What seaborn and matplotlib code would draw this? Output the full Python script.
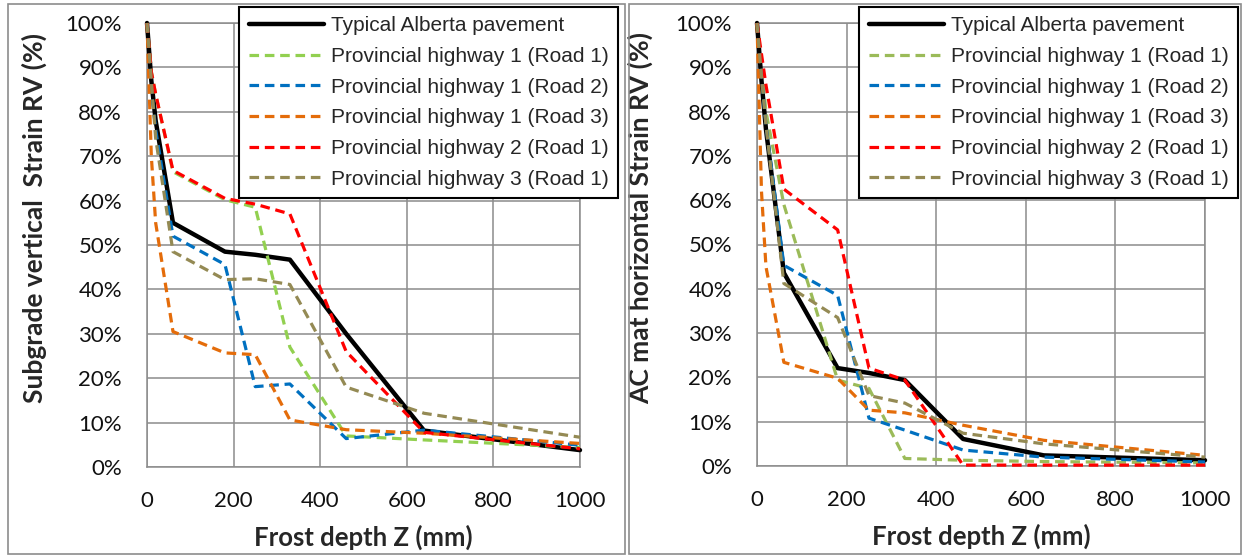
import matplotlib
matplotlib.use("Agg")
import matplotlib.pyplot as plt
import seaborn as sns
import pandas as pd
from matplotlib.ticker import PercentFormatter
from matplotlib.patches import Rectangle

# ---------------- data ----------------
depth_mm = [0, 10, 20, 60, 180, 250, 330, 460, 640, 1000]

series_names = [
    "Typical Alberta pavement",
    "Provincial highway 1 (Road 1)",
    "Provincial highway 1 (Road 2)",
    "Provincial highway 1 (Road 3)",
    "Provincial highway 2 (Road 1)",
    "Provincial highway 3 (Road 1)",
]

# Left panel: subgrade vertical strain RV (%)
sub_typical = [100, 87, 78, 55.0, 48.5, 47.8, 46.7, 30.0, 8.2, 3.8]
sub_ph1_r1 = [100, 89, 84, 66.5, 60.2, 58.5, 27.0, 7.0, 6.1, 4.4]
sub_ph1_r2 = [100, 85, 76, 52.0, 45.6, 18.1, 18.7, 6.4, 8.3, 4.9]
sub_ph1_r3 = [100, 70, 55, 30.5, 25.7, 25.3, 10.6, 8.4, 7.6, 5.3]
sub_ph2_r1 = [100, 89, 84, 66.8, 60.5, 59.2, 57.0, 26.0, 7.8, 4.1]
sub_ph3_r1 = [100, 87, 74, 48.5, 42.2, 42.4, 41.1, 18.0, 12.1, 6.7]

# Right panel: AC mat horizontal strain RV (%)
ac_typical = [100, 87, 76, 43.6, 22.1, 21.0, 19.4, 6.1, 2.4, 1.3]
ac_ph1_r1 = [100, 90, 80, 59.0, 19.4, 17.5, 1.7, 1.3, 1.0, 0.7]
ac_ph1_r2 = [100, 88, 77, 45.3, 38.5, 10.8, 8.1, 3.6, 2.0, 0.9]
ac_ph1_r3 = [100, 62, 45, 23.4, 19.8, 12.6, 12.0, 9.2, 5.8, 2.4]
ac_ph2_r1 = [100, 93, 86, 62.5, 53.3, 22.1, 19.4, 0.2, 0.2, 0.2]
ac_ph3_r1 = [100, 88, 77, 41.2, 33.5, 15.9, 14.2, 7.4, 5.0, 2.0]

x_ticks = [0, 200, 400, 600, 800, 1000]
y_ticks = [0, 10, 20, 30, 40, 50, 60, 70, 80, 90, 100]

left_colors = ["#000000", "#92D050", "#0070C0", "#E46C0A", "#FF0000", "#948A54"]
right_colors = ["#000000", "#9BBB59", "#0070C0", "#E46C0A", "#FF0000", "#948A54"]

# ---------------- style ----------------
sns.set_style("white")
plt.rcParams["font.family"] = ["Lato", "DejaVu Sans"]

W, H = 1246, 557
fig = plt.figure(figsize=(W / 100, H / 100), dpi=100)
fig.patch.set_facecolor("white")

# panel borders (chart areas)
for (x0, x1) in [(8, 625), (629, 1241)]:
    fig.add_artist(Rectangle((x0 / W, 3 / H), (x1 - x0) / W, (553 - 3) / H,
                             transform=fig.transFigure, fill=False,
                             edgecolor="#8C8C8C", linewidth=1.2))

def px_axes(x0, x1, y_top, y_bot):
    return fig.add_axes([x0 / W, 1 - y_bot / H, (x1 - x0) / W, (y_bot - y_top) / H])

ax_l = px_axes(147, 580, 23, 467)
ax_r = px_axes(757, 1205, 23, 466)

grid_c = "#8C8C8C"

def draw(ax, data, colors, ylabel, legend_anchor):
    for i, (name, vals) in enumerate(zip(series_names, data)):
        df = pd.DataFrame({"depth": depth_mm, "rv": vals})
        if i == 0:
            sns.lineplot(data=df, x="depth", y="rv", ax=ax, color=colors[i],
                         linewidth=3.2, sort=False, estimator=None,
                         label=name, clip_on=False, zorder=3)
        else:
            sns.lineplot(data=df, x="depth", y="rv", ax=ax, color=colors[i],
                         linewidth=2.3, linestyle=(0, (3.0, 1.8)), sort=False,
                         estimator=None, label=name, clip_on=False, zorder=4)
    ax.set_xlim(0, 1000)
    ax.set_ylim(0, 100)
    ax.set_xticks(x_ticks)
    ax.set_yticks(y_ticks)
    ax.yaxis.set_major_formatter(PercentFormatter(xmax=100, decimals=0))
    ax.grid(True, color=grid_c, linewidth=1.1)
    ax.set_axisbelow(True)
    for s in ax.spines.values():
        s.set_color(grid_c)
        s.set_linewidth(1.1)
    ax.tick_params(axis="both", direction="out", length=5, width=1.1,
                   color=grid_c, labelsize=16, labelcolor="#111111")
    ax.tick_params(axis="x", pad=12)
    ax.tick_params(axis="y", pad=13)
    ax.set_xlabel("Frost depth Z (mm)", fontsize=18.5, fontweight="bold")
    ax.set_ylabel(ylabel, fontsize=19, fontweight="bold")
    ax.xaxis.set_label_coords(0.5, -0.13)
    ax.yaxis.set_label_coords(-0.232, 0.56)
    h, l = ax.get_legend_handles_labels()
    leg = ax.legend(h, l, loc="upper right", bbox_to_anchor=legend_anchor,
                    bbox_transform=fig.transFigure, frameon=True, fancybox=False,
                    framealpha=1, edgecolor="black", borderpad=0.45,
                    borderaxespad=0, handlelength=3.6, handletextpad=0.35,
                    labelspacing=0.56,
                    prop={"family": ["Liberation Sans", "DejaVu Sans"], "size": 15})
    leg.get_frame().set_linewidth(1.5)
    leg.set_zorder(10)

draw(ax_l, [sub_typical, sub_ph1_r1, sub_ph1_r2, sub_ph1_r3, sub_ph2_r1, sub_ph3_r1],
     left_colors, "Subgrade vertical  Strain RV (%)", (618 / W, 1 - 7 / H))
draw(ax_r, [ac_typical, ac_ph1_r1, ac_ph1_r2, ac_ph1_r3, ac_ph2_r1, ac_ph3_r1],
     right_colors, "AC mat horizontal Strain RV (%)", (1238 / W, 1 - 7 / H))

fig.savefig("out.png", dpi=100, facecolor="white")
